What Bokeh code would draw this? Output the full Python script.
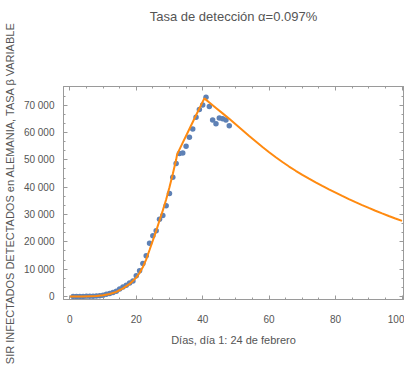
from bokeh.plotting import figure
from bokeh.models import Range1d, LinearAxis, SingleIntervalTicker, ColumnDataSource, Title
from bokeh.embed import file_html
from bokeh.resources import INLINE

# ---- data ----
days = list(range(1, 49))
detected = [16, 16, 20, 30, 50, 80, 130, 200, 300, 500,
            800, 1100, 1500, 1900, 2700, 3500, 4100, 4900, 5700, 7600,
            9400, 12100, 14900, 19500, 22200, 24100, 28300, 29600, 33200, 37700,
            43600, 48700, 52300, 52500, 55000, 58300, 61300, 65600, 68400, 70100,
            72900, 69500, 64600, 63200, 65300, 65000, 64600, 62500]

model_days = [0, 4, 8, 10, 12, 14, 16, 18, 20, 21, 22, 23, 24, 25, 26, 27, 28, 29, 30, 31,
              32, 32.3, 34, 36, 38, 40.5,
              42, 44, 46, 48, 50, 52, 54, 56, 58, 60, 62, 64, 66, 68, 70,
              72, 74, 76, 78, 80, 82, 84, 86, 88, 90, 92, 94, 96, 98, 100]
model_vals = [0, 40, 200, 450, 900, 1700, 3000, 4600, 6900, 8600, 10800, 13600, 17000, 20500,
              24000, 27800, 31500, 35500, 40000, 44800, 50000, 52000, 56300, 61300, 66300,
              72500,
              71000, 69000, 67000, 65000, 62900, 60800, 58700, 56700, 54700, 52800,
              50950, 49200, 47550, 46000, 44520, 43100, 41740, 40440, 39200, 38000,
              36800, 35640, 34520, 33440, 32400, 31390, 30410, 29460, 28540, 27650]

x_ticks = [0, 20, 40, 60, 80, 100]
x_tick_labels = ["0", "20", "40", "60", "80", "100"]
y_ticks = [0, 10000, 20000, 30000, 40000, 50000, 60000, 70000]
y_tick_labels = ["0", "10 000", "20 000", "30 000", "40 000", "50 000", "60 000", "70 000"]

title_text = "Tasa de detección α=0.097%"
x_label = "Días, día 1: 24 de febrero"
y_label = "SIR INFECTADOS DETECTADOS en ALEMANIA, TASA β VARIABLE"

FONT = "Liberation Sans"
GRAY_TXT = "#555555"
GRAY_AX = "#9a9a9a"
BLUE = "#5E81B5"
ORANGE = "#FF8A10"

p = figure(title=None, frame_width=340, frame_height=213,
           min_border_left=57, min_border_right=1, min_border_top=86, min_border_bottom=65,
           x_range=Range1d(-1.9, 100.45), y_range=Range1d(-1100, 76840),
           output_backend="svg", toolbar_location=None,
           x_axis_location=None, y_axis_location=None)

p.background_fill_color = "white"
p.border_fill_color = "white"
p.outline_line_color = GRAY_AX
p.xgrid.visible = False
p.ygrid.visible = False


def style_axis(ax, labels):
    ax.axis_line_color = GRAY_AX
    ax.major_tick_line_color = GRAY_AX
    ax.minor_tick_line_color = GRAY_AX
    ax.major_tick_in = 4
    ax.major_tick_out = 0
    ax.minor_tick_in = 2
    ax.minor_tick_out = 0
    ax.major_label_text_font = FONT
    ax.major_label_text_font_size = "10px"
    ax.major_label_text_color = GRAY_TXT if labels else None
    ax.axis_label_text_font = FONT
    ax.axis_label_text_font_size = "11px"
    ax.axis_label_text_font_style = "normal"
    ax.axis_label_text_color = GRAY_TXT


xb = LinearAxis(ticker=SingleIntervalTicker(interval=20, num_minor_ticks=4))
style_axis(xb, True)
xb.major_label_overrides = dict(zip(x_ticks, x_tick_labels))
xb.axis_label = x_label
xb.major_label_standoff = 15
xb.axis_label_standoff = 8
p.add_layout(xb, "below")

xt = LinearAxis(ticker=SingleIntervalTicker(interval=20, num_minor_ticks=4))
style_axis(xt, False)
xt.major_label_text_font_size = "0px"
xt.major_label_standoff = 0
p.add_layout(xt, "above")

# invisible spacer so that the real title sits at the top of the border
spacer = Title(text=" ", text_font_size="1px", standoff=60)
p.add_layout(spacer, "above")

title = Title(text=title_text, align="center", text_font=FONT, text_font_size="13px",
              text_font_style="normal", text_color=GRAY_TXT, standoff=0)
p.add_layout(title, "above")

yl = LinearAxis(ticker=SingleIntervalTicker(interval=10000, num_minor_ticks=3))
style_axis(yl, True)
yl.major_label_overrides = dict(zip(y_ticks, y_tick_labels))
yl.axis_label = y_label
yl.major_label_standoff = 9
yl.axis_label_standoff = 5
p.add_layout(yl, "left")

yr = LinearAxis(ticker=SingleIntervalTicker(interval=10000, num_minor_ticks=3))
style_axis(yr, False)
yr.major_label_text_font_size = "0px"
yr.major_label_standoff = 0
p.add_layout(yr, "right")

pts = ColumnDataSource(dict(x=days, y=detected))
p.scatter("x", "y", source=pts, size=5.5, fill_color=BLUE, line_color=None)

mdl = ColumnDataSource(dict(x=model_days, y=model_vals))
p.line("x", "y", source=mdl, line_color=ORANGE, line_width=2)

open("out.html", "w").write(file_html(p, INLINE))
